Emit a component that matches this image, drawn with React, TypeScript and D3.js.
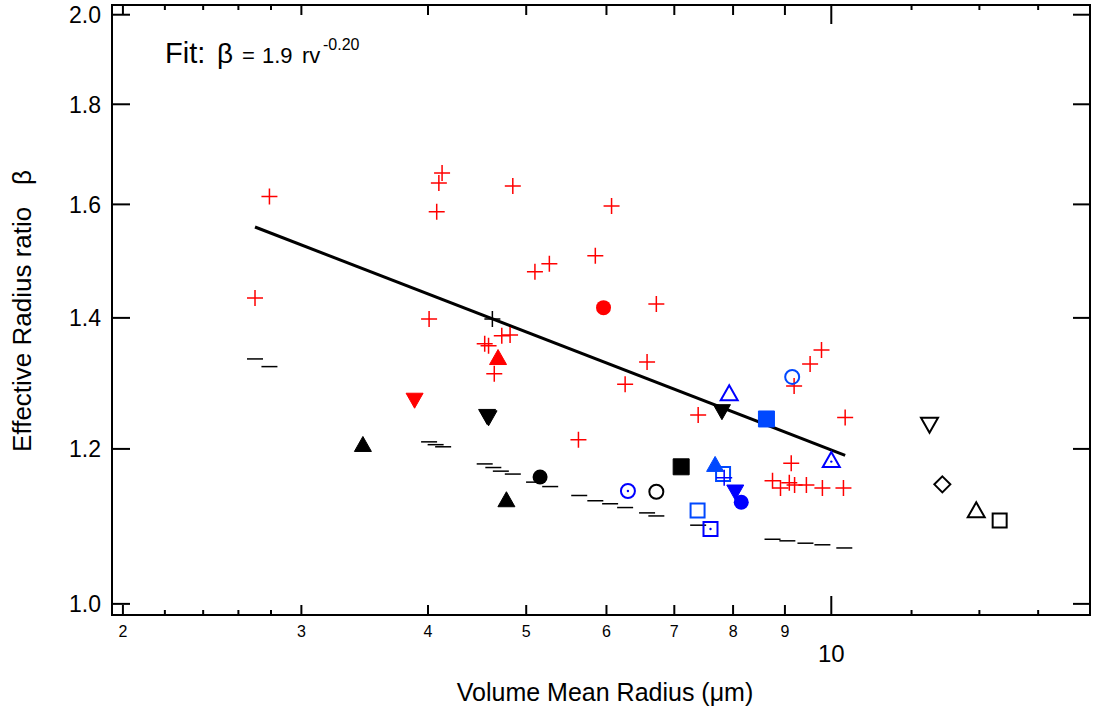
import React, { useEffect } from 'react'
import * as d3 from 'd3'

// volume mean radius rv (µm) -> effective radius ratio beta
const redPlus: [number, number][] = [
  [2.79, 1.615], [2.70, 1.433], [4.13, 1.660], [4.10, 1.641], [4.08, 1.586],
  [4.85, 1.635], [5.10, 1.478], [5.27, 1.492], [4.01, 1.398], [4.73, 1.371],
  [4.82, 1.372], [4.55, 1.358], [4.59, 1.355], [4.65, 1.311], [6.58, 1.329],
  [6.26, 1.295], [5.63, 1.213], [7.39, 1.249], [9.78, 1.348], [9.53, 1.326],
  [9.19, 1.292], [10.32, 1.245], [9.13, 1.180], [8.75, 1.156], [8.91, 1.146],
  [9.09, 1.153], [9.20, 1.150], [9.45, 1.150], [9.80, 1.146], [10.28, 1.146],
  [6.07, 1.597], [5.85, 1.506], [6.72, 1.423],
]
const blackDash: [number, number][] = [
  [2.70, 1.334], [2.79, 1.322], [4.01, 1.210], [4.07, 1.206], [4.14, 1.203],
  [4.55, 1.179], [4.64, 1.174], [4.72, 1.169], [4.85, 1.165], [5.09, 1.154],
  [5.28, 1.148], [5.64, 1.136], [5.85, 1.129], [6.05, 1.125], [6.26, 1.120],
  [6.58, 1.113], [6.72, 1.109], [7.39, 1.097], [8.75, 1.079], [9.05, 1.077],
  [9.43, 1.074], [9.80, 1.072], [10.30, 1.068],
]
const blackPlus: [number, number][] = [[4.63, 1.398]]
const blackDown: [number, number][] = [[4.575, 1.246], [4.59, 1.244], [7.80, 1.253]]
const blackUp: [number, number][] = [[3.45, 1.207], [4.78, 1.131]]
const blackCircle: [number, number][] = [[5.16, 1.161]]
const blackSquare: [number, number][] = [[7.11, 1.175]]
const blackOpenCircle: [number, number][] = [[6.72, 1.141]]
const blackOpenDown: [number, number][] = [[12.5, 1.234]]
const blackOpenDiamond: [number, number][] = [[12.87, 1.151]]
const blackOpenUp: [number, number][] = [[13.9, 1.117]]
const blackOpenSquare: [number, number][] = [[14.66, 1.103]]
const redCircle: [number, number][] = [[5.96, 1.417]]
const redUp: [number, number][] = [[4.69, 1.337]]
const redDown: [number, number][] = [[3.88, 1.270]]
const blueOpenCircle: [number, number][] = [[9.15, 1.306]]
const blueOpenCircleDot: [number, number][] = [[6.30, 1.142]]
const blueOpenUp: [number, number][] = [[7.93, 1.282]]
const blueOpenUpDot: [number, number][] = [[10.0, 1.185]]
const blueSquare: [number, number][] = [[8.63, 1.243]]
const blueUp: [number, number][] = [[7.68, 1.179]]
const blueOpenSquare: [number, number][] = [[7.82, 1.165], [7.38, 1.116]]
const bluePlus: [number, number][] = [[7.84, 1.160]]
const blueOpenSquareDot: [number, number][] = [[7.60, 1.092]]
const blueDown: [number, number][] = [[8.04, 1.140]]
const blueCircle: [number, number][] = [[8.15, 1.127]]

// fit: beta = 1.9 rv^-0.20, drawn between its end points
const fitLine: [number, number][] = [[2.70, 1.558], [10.32, 1.191]]

const xMajor = [2, 3, 4, 5, 6, 7, 8, 9]
const xDecade = [10]
const xMinor = [2.2, 2.4, 2.6, 2.8, 12, 14, 16]
const yTicks = [1.0, 1.2, 1.4, 1.6, 1.8, 2.0]

const RED = '#ff0000'
const BLUE = '#0000ff'
const BLUE2 = '#0048ff'

type Shape = 'plus' | 'dash' | 'circle' | 'square' | 'up' | 'down' | 'diamond'
const series: { data: [number, number][]; shape: Shape; color: string; filled: boolean; dot?: boolean }[] = [
  { data: blackDash, shape: 'dash', color: '#000', filled: false },
  { data: redPlus, shape: 'plus', color: RED, filled: false },
  { data: blackPlus, shape: 'plus', color: '#000', filled: false },
  { data: blackDown, shape: 'down', color: '#000', filled: true },
  { data: blackUp, shape: 'up', color: '#000', filled: true },
  { data: blackCircle, shape: 'circle', color: '#000', filled: true },
  { data: blackSquare, shape: 'square', color: '#000', filled: true },
  { data: blackOpenCircle, shape: 'circle', color: '#000', filled: false },
  { data: blackOpenDown, shape: 'down', color: '#000', filled: false },
  { data: blackOpenDiamond, shape: 'diamond', color: '#000', filled: false },
  { data: blackOpenUp, shape: 'up', color: '#000', filled: false },
  { data: blackOpenSquare, shape: 'square', color: '#000', filled: false },
  { data: redCircle, shape: 'circle', color: RED, filled: true },
  { data: redUp, shape: 'up', color: RED, filled: true },
  { data: redDown, shape: 'down', color: RED, filled: true },
  { data: blueOpenCircle, shape: 'circle', color: BLUE2, filled: false },
  { data: blueOpenCircleDot, shape: 'circle', color: BLUE, filled: false, dot: true },
  { data: blueOpenUp, shape: 'up', color: BLUE, filled: false },
  { data: blueOpenUpDot, shape: 'up', color: BLUE, filled: false, dot: true },
  { data: blueSquare, shape: 'square', color: BLUE2, filled: true },
  { data: blueUp, shape: 'up', color: BLUE2, filled: true },
  { data: blueOpenSquare, shape: 'square', color: BLUE2, filled: false },
  { data: bluePlus, shape: 'plus', color: BLUE, filled: false },
  { data: blueOpenSquareDot, shape: 'square', color: BLUE, filled: false, dot: true },
  { data: blueDown, shape: 'down', color: BLUE, filled: true },
  { data: blueCircle, shape: 'circle', color: BLUE, filled: true },
]

function shapePath(shape: Shape, filled: boolean) {
  const s = filled ? 16 : 14
  const w = 17, h = 15
  switch (shape) {
    case 'plus': return 'M-8,0H8M0,-8V8'
    case 'dash': return 'M-8,0H8'
    case 'square': return `M${-s / 2},${-s / 2}h${s}v${s}h${-s}Z`
    case 'up': return `M0,${-h / 2}L${w / 2},${h / 2}L${-w / 2},${h / 2}Z`
    case 'down': return `M0,${h / 2}L${w / 2},${-h / 2}L${-w / 2},${-h / 2}Z`
    case 'diamond': return 'M0,-8L8,0L0,8L-8,0Z'
    default: return ''
  }
}

export default function App() {
  useEffect(() => {
    document.body.style.margin = '0'
  }, [])

  const width = 1094
  const height = 711
  const left = 112, right = 1090, top = 5, bottom = 615

  const x = d3.scaleLog().domain([1.951, 18.0]).range([left, right])
  const y = d3.scaleLog().domain([0.987, 2.023]).range([bottom, top])

  const line = d3.line<[number, number]>().x(d => x(d[0])).y(d => y(d[1]))
  const font = "'Liberation Sans', Arial, sans-serif"

  return (
    <svg width={width} height={height} style={{ display: 'block', background: '#fff' }} fontFamily={font}>
      {/* frame */}
      <rect x={left} y={top} width={right - left} height={bottom - top} fill="none" stroke="#000" strokeWidth={2} />

      {/* x ticks, bottom and top */}
      {[...xMajor.map(v => [v, 10]), ...xDecade.map(v => [v, 19]), ...xMinor.map(v => [v, 5])].map(([v, len], i) => (
        <g key={'xt' + i} stroke="#000" strokeWidth={2}>
          <line x1={x(v)} x2={x(v)} y1={bottom} y2={bottom - len} />
          <line x1={x(v)} x2={x(v)} y1={top} y2={top + len} />
        </g>
      ))}
      {xMajor.map(v => (
        <text key={'xl' + v} x={x(v)} y={637} fontSize={16} textAnchor="middle">{v}</text>
      ))}
      {xDecade.map(v => (
        <text key={'xd' + v} x={x(v)} y={662} fontSize={24} textAnchor="middle">{v}</text>
      ))}

      {/* y ticks, left and right */}
      {yTicks.map(v => (
        <g key={'yt' + v}>
          <line x1={left} x2={left + 18} y1={y(v)} y2={y(v)} stroke="#000" strokeWidth={2} />
          <line x1={right} x2={right - 17} y1={y(v)} y2={y(v)} stroke="#000" strokeWidth={2} />
          <text x={101} y={y(v)} dy="0.36em" fontSize={23} textAnchor="end">{v.toFixed(1)}</text>
        </g>
      ))}

      {/* axis titles */}
      <text x={605} y={701} fontSize={25} textAnchor="middle">Volume Mean Radius (μm)</text>
      <text transform="translate(31,311) rotate(-90)" fontSize={26} textAnchor="middle">{'Effective Radius ratio\u00a0\u00a0 β'}</text>

      {/* fit annotation */}
      <text x={165} y={63} fontSize={29}>Fit:</text>
      <text x={217} y={63} fontSize={28}>β</text>
      <text y={63} fontSize={22}>
        <tspan x={242}>=</tspan>
        <tspan x={262}>1.9</tspan>
        <tspan x={302}>rv</tspan>
      </text>
      <text x={323} y={50} fontSize={16}>-0.20</text>

      {/* fit line */}
      <path d={line(fitLine) || ''} fill="none" stroke="#000" strokeWidth={3} />

      {/* markers */}
      {series.map((s, si) => (
        <g key={'s' + si}>
          {s.data.map((d, i) => (
            <g key={i} transform={`translate(${x(d[0])},${y(d[1])})`}>
              {s.shape === 'circle' ? (
                <circle r={s.filled ? 7.5 : 7} fill={s.filled ? s.color : 'none'} stroke={s.color} strokeWidth={s.filled ? 0 : 2} />
              ) : (
                <path d={shapePath(s.shape, s.filled)}
                  fill={s.filled ? s.color : 'none'}
                  stroke={s.color}
                  strokeWidth={s.shape === 'plus' || s.shape === 'dash' ? 1.5 : s.filled ? 1 : 2}
                  strokeLinejoin={s.filled ? 'round' : 'miter'} />
              )}
              {s.dot && <circle r={1.2} cy={s.shape === 'up' ? 2 : 0} fill={s.color} />}
            </g>
          ))}
        </g>
      ))}
    </svg>
  )
}
